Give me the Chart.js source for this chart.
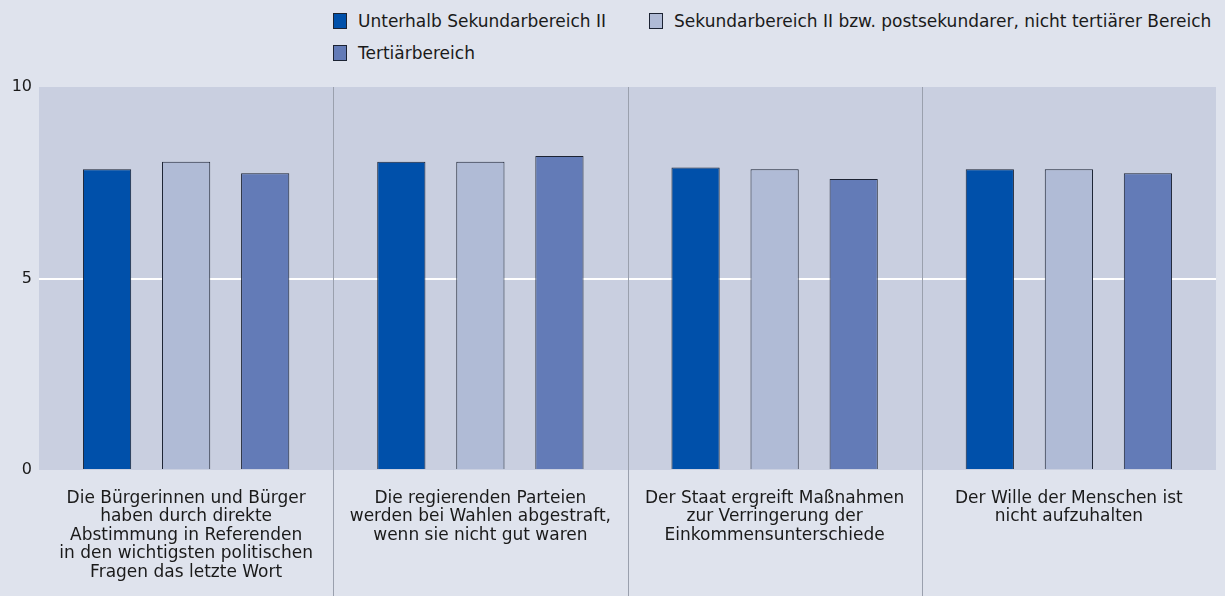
<!DOCTYPE html>
<html lang="de">
<head>
<meta charset="utf-8">
<script src="https://cdn.jsdelivr.net/npm/chart.js@4.4.0/dist/chart.umd.js"></script>
<style>
    html, body { margin: 0; padding: 0; background: #dfe3ed; }
    body { width: 1225px; height: 596px; position: relative; overflow: hidden;
           font-family: "DejaVu Sans", sans-serif; color: #1a1a1a; }
    #legend { position: absolute; left: 333px; top: 11px; width: 892px;
              display: flex; flex-wrap: wrap; row-gap: 12px; column-gap: 43px; font-size: 17px; }
    #legend .item { display: flex; align-items: center; height: 20px; white-space: nowrap; }
    #legend .box { width: 14px; height: 16px; border: 1px solid #1c2333; margin-right: 11px; box-sizing: border-box; }
    canvas { position: absolute; left: 0; top: 0; }
</style>
</head>
<body>
<div id="legend"></div>
<canvas id="chart" width="1225" height="596"></canvas>
<script>
const categories = [
    ['Die Bürgerinnen und Bürger', 'haben durch direkte', 'Abstimmung in Referenden', 'in den wichtigsten politischen', 'Fragen das letzte Wort'],
    ['Die regierenden Parteien', 'werden bei Wahlen abgestraft,', 'wenn sie nicht gut waren'],
    ['Der Staat ergreift Maßnahmen', 'zur Verringerung der', 'Einkommensunterschiede'],
    ['Der Wille der Menschen ist', 'nicht aufzuhalten'],
];
const seriesNames = [
    'Unterhalb Sekundarbereich II',
    'Sekundarbereich II bzw. postsekundarer, nicht tertiärer Bereich',
    'Tertiärbereich',
];
const unterhalb  = [7.85, 8.05, 7.9, 7.85];
const sekundar   = [8.05, 8.05, 7.85, 7.85];
const tertiaer   = [7.75, 8.2, 7.6, 7.75];
const yTicks = [0, 5, 10];

const colors = ['#0050aa', '#b0bbd6', '#637bb7'];
const values = [unterhalb, sekundar, tertiaer];

// legend as html so the second row starts at the left like the original
document.getElementById('legend').innerHTML = seriesNames.map((name, i) =>
    `<div class="item"><span class="box" style="background:${colors[i]}"></span>${name}</div>`
).join('');

const plotBg = {
    id: 'plotBg',
    beforeDraw(chart) {
        const { ctx, chartArea: a } = chart;
        ctx.save();
        ctx.fillStyle = '#c9cfe0';
        ctx.fillRect(a.left, a.top, a.right - a.left, a.bottom - a.top);
        ctx.restore();
    },
};

const separators = {
    id: 'separators',
    afterDraw(chart) {
        const { ctx, chartArea: a } = chart;
        const x = chart.scales.x;
        ctx.save();
        ctx.strokeStyle = '#9aa0ad';
        ctx.lineWidth = 1;
        for (let i = 0; i < categories.length - 1; i++) {
            const px = Math.round((x.getPixelForValue(i) + x.getPixelForValue(i + 1)) / 2) + 0.5;
            ctx.beginPath();
            ctx.moveTo(px, a.top);
            ctx.lineTo(px, chart.height);
            ctx.stroke();
        }
        ctx.restore();
    },
};

const font = { family: 'DejaVu Sans', size: 16 };

new Chart(document.getElementById('chart'), {
    type: 'bar',
    data: {
        labels: categories,
        datasets: seriesNames.map((name, i) => ({
            label: name,
            data: values[i],
            backgroundColor: colors[i],
            borderColor: '#1c2333',
            borderWidth: 1,
            barPercentage: 0.61,
            categoryPercentage: 0.806,
        })),
    },
    options: {
        responsive: false, animation: false,
        layout: { padding: { top: 87, right: 9, left: 0, bottom: 0 } },
        plugins: { legend: { display: false }, tooltip: { enabled: false } },
        scales: {
            x: {
                grid: { display: false },
                border: { display: false },
                ticks: { color: '#1a1a1a', font: { family: 'DejaVu Sans', size: 17, lineHeight: 1.09 }, padding: 11, maxRotation: 0, autoSkip: false },
                afterFit: (s) => { s.height = 126; },
            },
            y: {
                min: 0, max: 10,
                afterBuildTicks: (s) => { s.ticks = yTicks.map((v) => ({ value: v })); },
                grid: { color: (c) => c.tick && c.tick.value === 5 ? '#ffffff' : 'rgba(0,0,0,0)', lineWidth: 2, drawTicks: false },
                border: { display: false },
                ticks: { color: '#1a1a1a', font, padding: 7 },
                afterFit: (s) => { s.width = 39; },
            },
        },
    },
    plugins: [plotBg, separators],
});
</script>
</body>
</html>
